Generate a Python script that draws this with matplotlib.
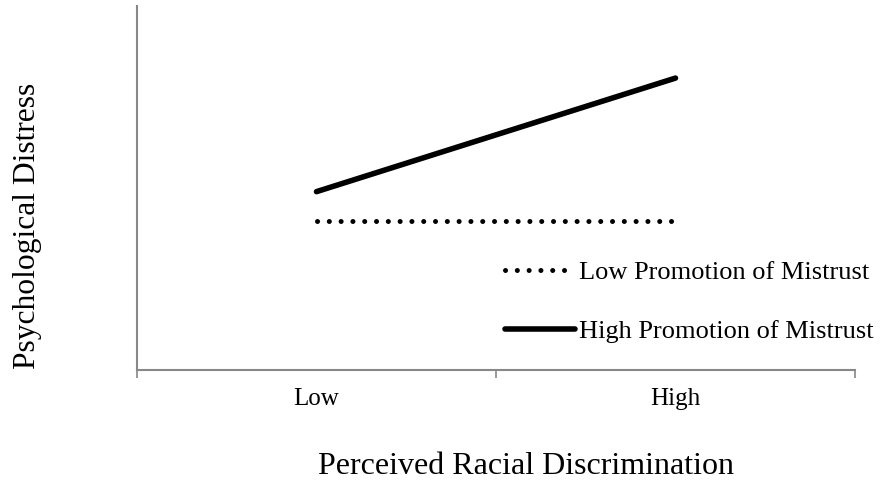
import matplotlib
matplotlib.use("Agg")
import matplotlib.pyplot as plt

plt.rcParams['font.family'] = ['Liberation Serif', 'DejaVu Serif']

categories = ["Low", "High"]
low_mistrust = [2.05, 2.05]
high_mistrust = [2.45, 4.01]
series_labels = ["Low Promotion of Mistrust", "High Promotion of Mistrust"]

fig = plt.figure(figsize=(8.83, 4.82), dpi=100)
ax = fig.add_axes([137/883, 1-370/482, (855-137)/883, (370-6)/482])

x = list(range(len(categories)))
ax.plot(x, low_mistrust, color='black', lw=3.6, linestyle=(0, (0.01, 2.35)),
        dash_capstyle='round', label=series_labels[0])
ax.plot(x, high_mistrust, color='black', lw=4, solid_capstyle='round',
        label=series_labels[1])

ax.set_xlim(-0.5, len(categories) - 0.5)
ax.set_ylim(0, 5)
ax.set_xticks(x)
ax.set_xticklabels(categories, fontsize=18)
ax.tick_params(axis='x', which='major', length=0, pad=13)
ax.set_xticks([-0.5, 0.5, 1.5], minor=True)
ax.tick_params(axis='x', which='minor', length=5.5, width=1.2, color='#888888', direction='out')
ax.set_yticks([])

for s in ['top', 'right']:
    ax.spines[s].set_visible(False)
for s in ['left', 'bottom']:
    ax.spines[s].set_color('#888888')
    ax.spines[s].set_linewidth(1.5)

ax.set_xlabel("Perceived Racial Discrimination", fontsize=23)
ax.xaxis.set_label_coords((526-137)/718, -(466-370)/364)
ax.xaxis.label.set_va('center')
ax.set_ylabel("Psychological Distress", fontsize=22.7)
ax.yaxis.set_label_coords(-(137-28)/718, (370-226)/364)
ax.yaxis.label.set_va('center')

leg = ax.legend(loc='center left', bbox_to_anchor=((505-137)/718, (370-302)/364),
                frameon=False, fontsize=19, handlelength=2.65, handletextpad=0.15,
                labelspacing=1.35, borderaxespad=0, borderpad=0)

fig.savefig("out.png", dpi=100)
